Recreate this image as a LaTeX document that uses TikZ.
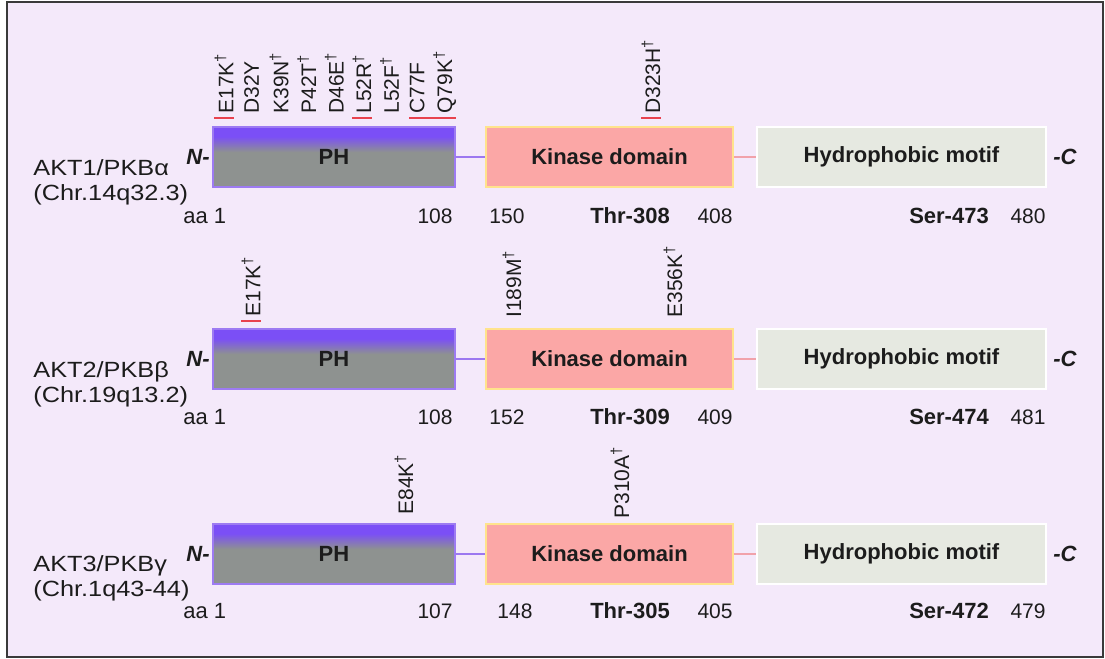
\documentclass[tikz,border=0pt]{standalone}
\usepackage{fontspec}
\setmainfont{Liberation Sans}
\newfontfamily\genefont[FakeStretch=1.15]{Liberation Sans}
\usetikzlibrary{calc}

\definecolor{bgpanel}{HTML}{F4E9FA}
\definecolor{framegray}{HTML}{3A3A3A}
\definecolor{phpurple}{HTML}{7B4FF6}
\definecolor{phgray}{HTML}{8E9290}
\definecolor{phedge}{HTML}{9D7BF2}
\definecolor{kinfill}{HTML}{FBA7A6}
\definecolor{kinedge}{HTML}{FFE38C}
\definecolor{hydfill}{HTML}{E6E9E1}
\definecolor{linkpurple}{HTML}{9C78F0}
\definecolor{linkpink}{HTML}{F1A2AA}
\definecolor{mutred}{HTML}{E8424E}
\definecolor{ink}{HTML}{1C1C1C}

% PH domain: purple cap fading into grey
\pgfdeclareverticalshading{phshade}{100bp}{color(0bp)=(phgray); color(54bp)=(phgray); color(67bp)=(phpurple); color(100bp)=(phpurple)}

\tikzset{
  x=0.5pt, y=-0.5pt,
  boxlabel/.style={inner sep=0pt, minimum height=30pt, text=ink,
    font=\fontsize{11}{13}\selectfont\bfseries},
  phbox/.style={boxlabel, draw=phedge, line width=0.6pt, shading=phshade,
    minimum width=121pt},
  kinbox/.style={boxlabel, draw=kinedge, line width=1pt, fill=kinfill,
    minimum width=123.5pt},
  hydbox/.style={boxlabel, draw=white, line width=1.3pt, fill=hydfill,
    minimum width=144.5pt},
  linkph/.style={draw=linkpurple, line width=0.8pt},
  linkkin/.style={draw=linkpink, line width=0.8pt},
  term/.style={inner sep=0pt, text=ink, font=\fontsize{11}{13}\selectfont\bfseries\itshape},
  gene/.style={inner sep=0pt, anchor=west, align=left, text=ink,
    font=\genefont\fontsize{11}{12.5}\selectfont},
  num/.style={inner sep=0pt, text=ink, font=\fontsize{10.5}{12}\selectfont},
  aalabel/.style={inner sep=0pt, text=ink, anchor=west, font=\fontsize{11}{12}\selectfont},
  site/.style={inner sep=0pt, text=ink, font=\fontsize{11}{13}\selectfont\bfseries},
  mut/.style={rotate=90, anchor=west, inner sep=0pt, text=ink,
    font=\fontsize{10.5}{12}\selectfont},
  redtick/.style={draw=mutred, line width=1pt},
}

\newcommand{\dg}{\textsuperscript{†}}

\begin{document}
\begin{tikzpicture}
\useasboundingbox (0,0) rectangle (1105,659);
\fill[white] (0,0) rectangle (1105,659);
\draw[framegray, line width=1pt, fill=bgpanel] (7,1.5) rectangle (1102.5,656.5);

% ---------------- AKT1 ----------------
\node[phbox]  (ph1)  at (334,157)   {PH};
\node[kinbox] (kin1) at (609.5,157) {Kinase domain};
\node[hydbox] (hyd1) at (901.5,157) {Hydrophobic motif};
\draw[linkph]  (ph1.east)  -- (kin1.west);
\draw[linkkin] (kin1.east) -- (hyd1.west);
\node[term, anchor=east] (nt1) at (210,157)  {N-};
\node[term, anchor=west] (ct1) at (1053,157) {-C};
\node[gene] (g1) at (33,182) {AKT1/PKBα\\(Chr.14q32.3)};
\node[aalabel] (aa1) at (183,216) {aa 1};
\node[num, anchor=east] (phend1) at (453,216) {108};
\node[num, anchor=west] (kst1)   at (489,216) {150};
\node[site]             (thr1)   at (630,216) {Thr-308};
\node[num, anchor=east] (kend1)  at (733,216) {408};
\node[site]             (ser1)   at (949,216) {Ser-473};
\node[num, anchor=east] (hend1)  at (1046,216) {480};

\node[mut] (m1a) at (224,114)   {E17K\dg};
\node[mut] (m1b) at (251.6,114) {D32Y};
\node[mut] (m1c) at (279.2,114) {K39N\dg};
\node[mut] (m1d) at (306.8,114) {P42T\dg};
\node[mut] (m1e) at (334.4,114) {D46E\dg};
\node[mut] (m1f) at (362,114)   {L52R\dg};
\node[mut] (m1g) at (389.6,114) {L52F\dg};
\node[mut] (m1h) at (417.2,114) {C77F};
\node[mut] (m1i) at (444.8,114) {Q79K\dg};
\node[mut] (m1j) at (651,114)   {D323H\dg};
\draw[redtick] ($(m1a.north west)+(0,4)$) -- ($(m1a.south west)+(0,4)$);
\draw[redtick] ($(m1f.north west)+(0,4)$) -- ($(m1f.south west)+(0,4)$);
\draw[redtick] ($(m1h.north west)+(0,4)$) -- ($(m1i.south west)+(0,4)$);
\draw[redtick] ($(m1j.north west)+(0,4)$) -- ($(m1j.south west)+(0,4)$);

% ---------------- AKT2 ----------------
\node[phbox]  (ph2)  at (334,359)   {PH};
\node[kinbox] (kin2) at (609.5,359) {Kinase domain};
\node[hydbox] (hyd2) at (901.5,359) {Hydrophobic motif};
\draw[linkph]  (ph2.east)  -- (kin2.west);
\draw[linkkin] (kin2.east) -- (hyd2.west);
\node[term, anchor=east] (nt2) at (210,359)  {N-};
\node[term, anchor=west] (ct2) at (1053,359) {-C};
\node[gene] (g2) at (33,384) {AKT2/PKBβ\\(Chr.19q13.2)};
\node[aalabel] (aa2) at (183,417) {aa 1};
\node[num, anchor=east] (phend2) at (453,417) {108};
\node[num, anchor=west] (kst2)   at (489,417) {152};
\node[site]             (thr2)   at (630,417) {Thr-309};
\node[num, anchor=east] (kend2)  at (733,417) {409};
\node[site]             (ser2)   at (949,417) {Ser-474};
\node[num, anchor=east] (hend2)  at (1046,417) {481};

\node[mut] (m2a) at (251,317) {E17K\dg};
\node[mut] (m2b) at (512,318) {I189M\dg};
\node[mut] (m2c) at (673,318) {E356K\dg};
\draw[redtick] ($(m2a.north west)+(0,4)$) -- ($(m2a.south west)+(0,4)$);

% ---------------- AKT3 ----------------
\node[phbox]  (ph3)  at (334,554)   {PH};
\node[kinbox] (kin3) at (609.5,554) {Kinase domain};
\node[hydbox] (hyd3) at (901.5,554) {Hydrophobic motif};
\draw[linkph]  (ph3.east)  -- (kin3.west);
\draw[linkkin] (kin3.east) -- (hyd3.west);
\node[term, anchor=east] (nt3) at (210,554)  {N-};
\node[term, anchor=west] (ct3) at (1053,554) {-C};
\node[gene] (g3) at (33,578) {AKT3/PKBγ\\(Chr.1q43-44)};
\node[aalabel] (aa3) at (183,611) {aa 1};
\node[num, anchor=east] (phend3) at (453,611) {107};
\node[num, anchor=west] (kst3)   at (497,611) {148};
\node[site]             (thr3)   at (630,611) {Thr-305};
\node[num, anchor=east] (kend3)  at (733,611) {405};
\node[site]             (ser3)   at (949,611) {Ser-472};
\node[num, anchor=east] (hend3)  at (1046,611) {479};

\node[mut] (m3a) at (404,515) {E84K\dg};
\node[mut] (m3b) at (620,519) {P310A\dg};
\end{tikzpicture}
\end{document}
